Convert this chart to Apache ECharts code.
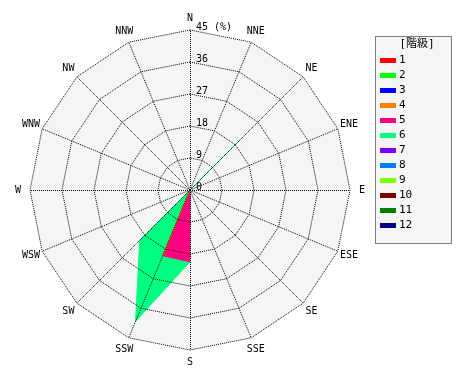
<!DOCTYPE html>
<html><head><meta charset="utf-8">
<script src="https://cdn.jsdelivr.net/npm/echarts@6/dist/echarts.min.js"></script>
<style>html,body{margin:0;padding:0;background:#fff}#c{width:470px;height:380px}</style>
</head><body><div id="c"></div>
<script>
// Compass directions, clockwise from north
const directions = ['N','NNE','NE','ENE','E','ESE','SE','SSE','S','SSW','SW','WSW','W','WNW','NW','NNW'];
const classNames = ['1','2','3','4','5','6','7','8','9','10','11','12'];
const classColors = ['#ff0000','#00ff00','#0000ff','#ff8000','#ff0080','#00ff80','#8000ff','#0080ff','#80ff00','#800000','#008000','#000080'];
const tickValues = [0, 9, 18, 27, 36, 45];
const legendTitle = '[階級]';
const unitLabel = '(%)';

//                N NNE NE ENE E ESE SE SSE  S   SSW  SW WSW W WNW NW NNW
const class1  = [0, 0,  0, 0,  0, 0,  0, 0,  0,   0,   0, 0,  0, 0,  0, 0];
const class2  = [0, 0,  0, 0,  0, 0,  0, 0,  0,   0,   0, 0,  0, 0,  0, 0];
const class3  = [0, 0,  0, 0,  0, 0,  0, 0,  0,   0,   0, 0,  0, 0,  0, 0];
const class4  = [0, 0,  0, 0,  0, 0,  0, 0,  0,   20,  0, 0,  0, 0,  0, 0];
const class5  = [0, 0,  0, 0,  0, 0,  0, 0,  20.2,20,  0, 0,  0, 0,  0, 0];
const class6  = [0, 0, 20, 0,  0, 0,  0, 0,  20.2,40, 20, 0,  0, 0,  0, 0];
const class7  = [0, 0,  0, 0,  0, 0,  0, 0,  0,   0,   0, 0,  0, 0,  0, 0];
const class8  = [0, 0,  0, 0,  0, 0,  0, 0,  0,   0,   0, 0,  0, 0,  0, 0];
const class9  = [0, 0,  0, 0,  0, 0,  0, 0,  0,   0,   0, 0,  0, 0,  0, 0];
const class10 = [0, 0,  0, 0,  0, 0,  0, 0,  0,   0,   0, 0,  0, 0,  0, 0];
const class11 = [0, 0,  0, 0,  0, 0,  0, 0,  0,   0,   0, 0,  0, 0,  0, 0];
const class12 = [0, 0,  0, 0,  0, 0,  0, 0,  0,   0,   0, 0,  0, 0,  0, 0];
const classValues = [class1,class2,class3,class4,class5,class6,class7,class8,class9,class10,class11,class12];

const FONT = '"DejaVu Sans Mono", "Noto Sans CJK JP", monospace';
const maxV = tickValues[tickValues.length - 1];
// ECharts radar runs counter-clockwise; reorder so directions go clockwise
const order = [0].concat(directions.map((d, i) => i).slice(1).reverse());
const dotted = {color: '#000', type: [1, 1], width: 1, cap: 'butt'};

const radarBase = {
  center: [190, 190], radius: 160, startAngle: 90, splitNumber: tickValues.length - 1, shape: 'polygon'
};

const chart = echarts.init(document.getElementById('c'));
const series = [];
for (let k = classNames.length - 1; k >= 0; k--) {
  series.push({
    type: 'radar', radarIndex: 0, name: classNames[k], symbol: 'none', z: 2,
    lineStyle: {color: classColors[k], width: 1},
    areaStyle: {color: classColors[k], opacity: 1},
    itemStyle: {color: classColors[k]},
    data: [{name: classNames[k], value: order.map(i => classValues[k][i])}]
  });
}

chart.setOption({
  animation: false,
  backgroundColor: '#fff',
  title: {text: legendTitle, left: 417, top: 39, textAlign: 'center', padding: 0,
    textStyle: {fontFamily: FONT, fontSize: 11, fontWeight: 'normal', color: '#000'}},
  legend: {
    orient: 'vertical', left: 380, top: 55, padding: 0, icon: 'rect', itemWidth: 16, itemHeight: 5, itemGap: 4,
    data: classNames, selectedMode: false,
    textStyle: {fontFamily: FONT, fontSize: 11, color: '#000', padding: [0,0,0,-2]}
  },
  graphic: [{type: 'rect', shape: {x: 375.5, y: 36.5, width: 76, height: 207}, z: -1,
    style: {fill: '#f5f5f5', stroke: '#000', lineWidth: 1, lineDash: [1, 1]}}],
  radar: [
    Object.assign({}, radarBase, {
      z: 0,
      indicator: order.map(i => ({name: directions[i], min: 0, max: maxV})),
      axisName: {color: '#000', fontFamily: FONT, fontSize: 10, align: 'center', verticalAlign: 'middle'},
      nameGap: 12,
      splitArea: {show: true, areaStyle: {color: ['#f5f5f5']}},
      splitLine: {show: false}, axisLine: {show: false}, axisTick: {show: false}, axisLabel: {show: false}
    }),
    Object.assign({}, radarBase, {
      z: 5, silent: true,
      indicator: order.map((i, j) => {
        const ind = {name: '', min: 0, max: maxV};
        if (j === 0) ind.axisLabel = {show: true, color: '#000', fontFamily: FONT, fontSize: 10,
          align: 'left', verticalAlign: 'bottom', lineHeight: 6, margin: -6,
          formatter: v => (v === maxV ? v + ' ' + unitLabel : String(v))};
        return ind;
      }),
      axisName: {show: false},
      splitArea: {show: false},
      splitLine: {show: true, lineStyle: dotted},
      axisLine: {show: true, lineStyle: dotted},
      axisTick: {show: false},
      axisLabel: {show: false}
    })
  ],
  series: series
});
</script></body></html>
